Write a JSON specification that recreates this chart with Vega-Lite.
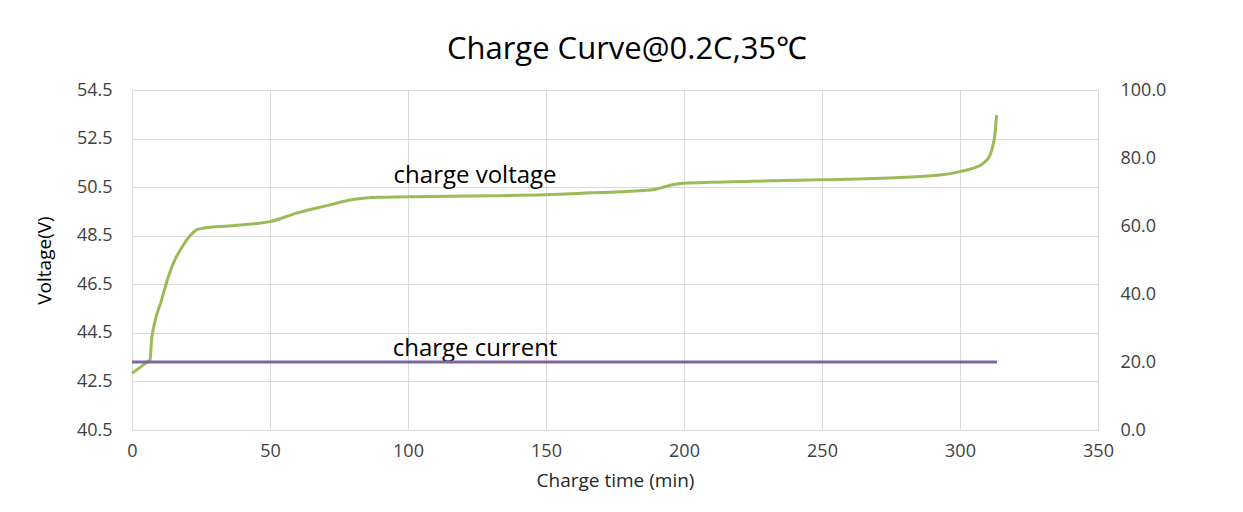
{
  "$schema": "https://vega.github.io/schema/vega-lite/v6.json",
  "width": 966,
  "height": 340,
  "autosize": {"type": "none"},
  "padding": {"left": 132, "top": 90, "right": 145, "bottom": 82},
  "background": "white",
  "config": {
    "view": {"stroke": null},
    "font": "Open Sans",
    "axis": {
      "labelFont": "Open Sans",
      "titleFont": "Open Sans",
      "labelColor": "#404040",
      "titleColor": "#262626",
      "gridColor": "#d9d9d9",
      "gridWidth": 1,
      "ticks": false,
      "domain": false,
      "labelFontSize": 18,
      "titleFontWeight": "normal"
    }
  },
  "title": {
    "text": "Charge Curve@0.2C,35℃",
    "fontSize": 31,
    "fontWeight": "normal",
    "font": "Open Sans",
    "color": "#000000",
    "offset": 15,
    "dx": 12
  },
  "datasets": {
    "voltage": [
      {"t": 0, "v": 42.84},
      {"t": 3, "v": 43.08},
      {"t": 5.9, "v": 43.33},
      {"t": 6.5, "v": 43.38},
      {"t": 7.1, "v": 44.21},
      {"t": 8.3, "v": 44.96},
      {"t": 10.7, "v": 45.85},
      {"t": 13, "v": 46.75},
      {"t": 15, "v": 47.37},
      {"t": 18.6, "v": 48.12},
      {"t": 21, "v": 48.5},
      {"t": 23.4, "v": 48.74},
      {"t": 25.8, "v": 48.81},
      {"t": 35, "v": 48.9},
      {"t": 45, "v": 49.0},
      {"t": 50, "v": 49.08},
      {"t": 59.6, "v": 49.43},
      {"t": 71.7, "v": 49.77},
      {"t": 79, "v": 49.97},
      {"t": 89.9, "v": 50.08},
      {"t": 108, "v": 50.11},
      {"t": 130, "v": 50.15},
      {"t": 150, "v": 50.19},
      {"t": 169.6, "v": 50.28},
      {"t": 187.7, "v": 50.38},
      {"t": 197.3, "v": 50.63},
      {"t": 199.8, "v": 50.66},
      {"t": 225, "v": 50.74},
      {"t": 249.3, "v": 50.8},
      {"t": 278.3, "v": 50.9},
      {"t": 292.8, "v": 51.0},
      {"t": 300, "v": 51.14},
      {"t": 304.8, "v": 51.28},
      {"t": 308.4, "v": 51.48},
      {"t": 310.9, "v": 51.82},
      {"t": 312.1, "v": 52.31},
      {"t": 312.7, "v": 52.72},
      {"t": 313.0, "v": 53.13},
      {"t": 313.3, "v": 53.47}
    ],
    "current": [
      {"t": 0, "i": 20},
      {"t": 313.4, "i": 20}
    ]
  },
  "layer": [
    {
      "layer": [
        {
          "data": {"name": "voltage"},
          "mark": {"type": "line", "color": "#9bbb59", "strokeWidth": 3, "interpolate": "monotone"},
          "encoding": {
            "x": {
              "field": "t", "type": "quantitative",
              "scale": {"domain": [0, 350], "nice": false},
              "axis": {
                "values": [0, 50, 100, 150, 200, 250, 300, 350],
                "title": "Charge time (min)",
                "titleFontSize": 19,
                "titlePadding": 11,
                "labelPadding": 12,
                "labelFlush": false,
                "grid": true,
                "domain": true,
                "domainColor": "#d9d9d9"
              }
            },
            "y": {
              "field": "v", "type": "quantitative",
              "scale": {"domain": [40.5, 54.5], "nice": false, "zero": false},
              "axis": {
                "values": [40.5, 42.5, 44.5, 46.5, 48.5, 50.5, 52.5, 54.5],
                "format": ".1f",
                "title": "Voltage(V)",
                "titleFontSize": 19,
                "titleColor": "#000000",
                "titlePadding": 22,
                "labelPadding": 20,
                "labelFlush": false,
                "grid": true
              }
            }
          }
        },
        {
          "data": {"values": [{"label": "charge voltage"}]},
          "mark": {"type": "text", "fontSize": 24, "color": "#000000", "font": "Open Sans", "baseline": "middle", "align": "center"},
          "encoding": {
            "text": {"field": "label"},
            "x": {"datum": 124.3},
            "y": {"datum": 50.96}
          }
        },
        {
          "data": {"values": [{"label": "charge current"}]},
          "mark": {"type": "text", "fontSize": 24, "color": "#000000", "font": "Open Sans", "baseline": "middle", "align": "center"},
          "encoding": {
            "text": {"field": "label"},
            "x": {"datum": 124.3},
            "y": {"datum": 43.84}
          }
        }
      ]
    },
    {
      "data": {"name": "current"},
      "mark": {"type": "line", "color": "#8064a2", "strokeWidth": 3},
      "encoding": {
        "x": {"field": "t", "type": "quantitative"},
        "y": {
          "field": "i", "type": "quantitative",
          "scale": {"domain": [0, 100], "nice": false},
          "axis": {
            "orient": "right",
            "values": [0, 20, 40, 60, 80, 100],
            "format": ".1f",
            "title": null,
            "grid": false,
            "labelFlush": false,
            "labelPadding": 22
          }
        }
      }
    }
  ],
  "resolve": {"scale": {"y": "independent"}}
}
